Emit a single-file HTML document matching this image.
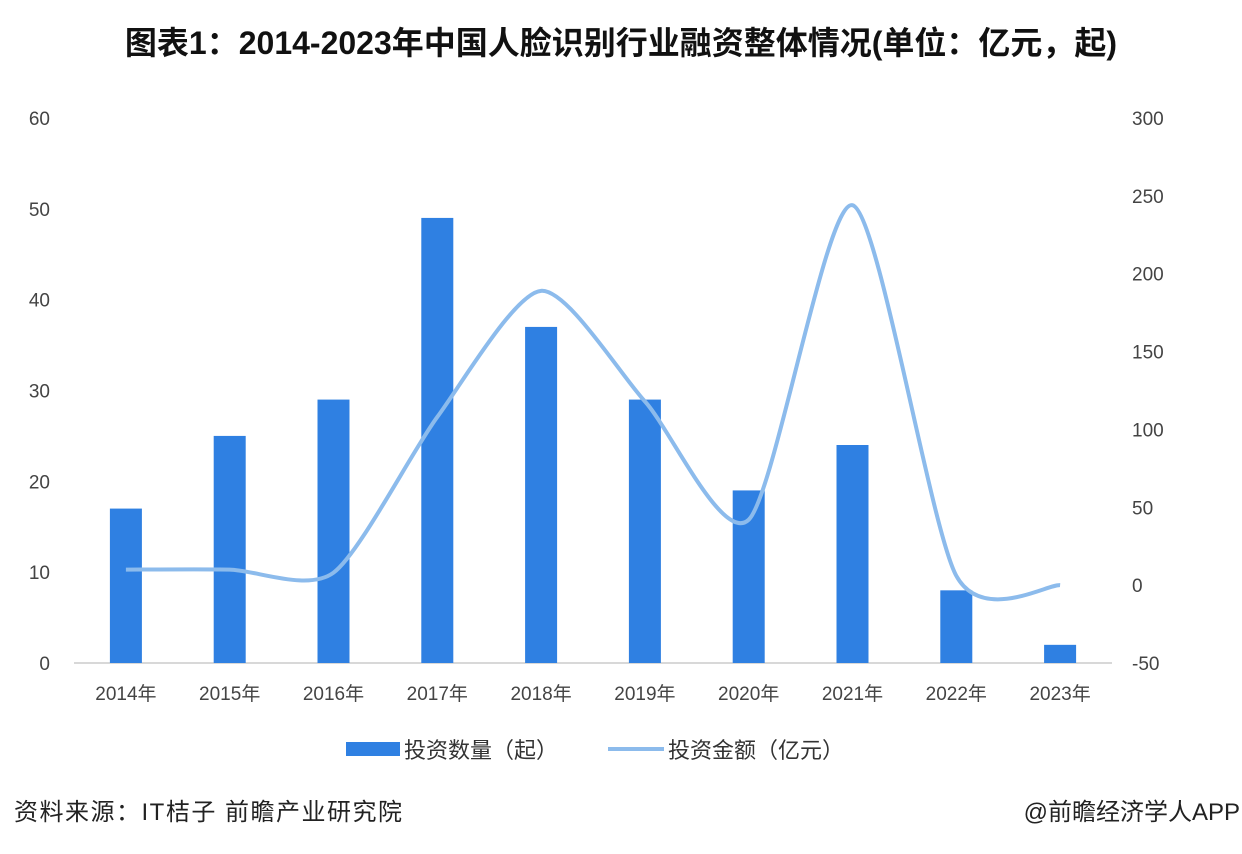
<!DOCTYPE html>
<html><head><meta charset="utf-8"><style>
body{margin:0;width:1242px;height:854px;background:#fff;overflow:hidden;font-family:"Liberation Sans","Noto Sans CJK SC",sans-serif}
#c{position:absolute;left:0;top:0}
</style></head><body>
<svg id="c" width="1242" height="854">
<text x="621" y="54" text-anchor="middle" font-size="32" font-weight="bold" fill="#111" font-family="Liberation Sans,Noto Sans CJK SC,sans-serif">图表1：2014-2023年中国人脸识别行业融资整体情况(单位：亿元，起)</text>
<g id="plot"></g>
<g>
<rect x="346" y="742" width="54" height="14" fill="#2f80e2"/>
<text x="404" y="758" font-size="22" fill="#333">投资数量（起）</text>
<line x1="608" y1="749" x2="664" y2="749" stroke="#8cbbec" stroke-width="4"/>
<text x="668" y="758" font-size="22" fill="#333">投资金额（亿元）</text>
</g>
<text x="14" y="820" font-size="24" letter-spacing="1.5" fill="#222">资料来源：IT桔子 前瞻产业研究院</text>
<text x="1240" y="820" text-anchor="end" font-size="24" fill="#222">@前瞻经济学人APP</text>
</svg>
<script>
const categories=["2014年","2015年","2016年","2017年","2018年","2019年","2020年","2021年","2022年","2023年"];
const counts=[17,25,29,49,37,29,19,24,8,2];
const amounts=[10,10,8,108,189,118,42,244,6,0];
const leftTicks=[0,10,20,30,40,50,60];
const rightTicks=[-50,0,50,100,150,200,250,300];
const NS="http://www.w3.org/2000/svg";
const g=document.getElementById('plot');
const x0=74,x1=1112,yTop=118,yBot=663;
const yL=v=>yBot-(v/60)*(yBot-yTop);
const yR=v=>yBot-((v+50)/350)*(yBot-yTop);
const step=(x1-x0)/categories.length;
const xC=i=>x0+step*(i+0.5);
function mk(t,a){const e=document.createElementNS(NS,t);for(const k in a)e.setAttribute(k,a[k]);g.appendChild(e);return e;}
leftTicks.forEach(v=>{const t=mk('text',{x:50,y:yL(v)+7,'text-anchor':'end','font-size':19,fill:'#444'});t.textContent=v;

});
rightTicks.forEach(v=>{const t=mk('text',{x:1132,y:yR(v)+7,'font-size':19,fill:'#444'});t.textContent=v;

});
const ax=mk('line',{x1:x0,y1:yBot,x2:x1,y2:yBot,stroke:'#ccc','stroke-width':1.5});


categories.forEach((c,i)=>{const t=mk('text',{x:xC(i),y:700,'text-anchor':'middle','font-size':19,fill:'#444'});t.textContent=c;

});
counts.forEach((v,i)=>{const r=mk('rect',{x:xC(i)-16,y:yL(v),width:32,height:yBot-yL(v),fill:'#2f80e2'});

});
const pts=amounts.map((v,i)=>[xC(i),yR(v)]);
const k=1/8;
let d='M'+pts[0][0]+','+pts[0][1];
for(let i=0;i<pts.length-1;i++){const p0=pts[Math.max(0,i-1)],p1=pts[i],p2=pts[i+1],p3=pts[Math.min(pts.length-1,i+2)];
const c1=[p1[0]+(p2[0]-p0[0])*k,p1[1]+(p2[1]-p0[1])*k],c2=[p2[0]-(p3[0]-p1[0])*k,p2[1]-(p3[1]-p1[1])*k];
d+=` C${c1[0]},${c1[1]} ${c2[0]},${c2[1]} ${p2[0]},${p2[1]}`;}
const ln=mk('path',{d:d,fill:'none',stroke:'#8cbbec','stroke-width':4});


</script>
</body></html>
